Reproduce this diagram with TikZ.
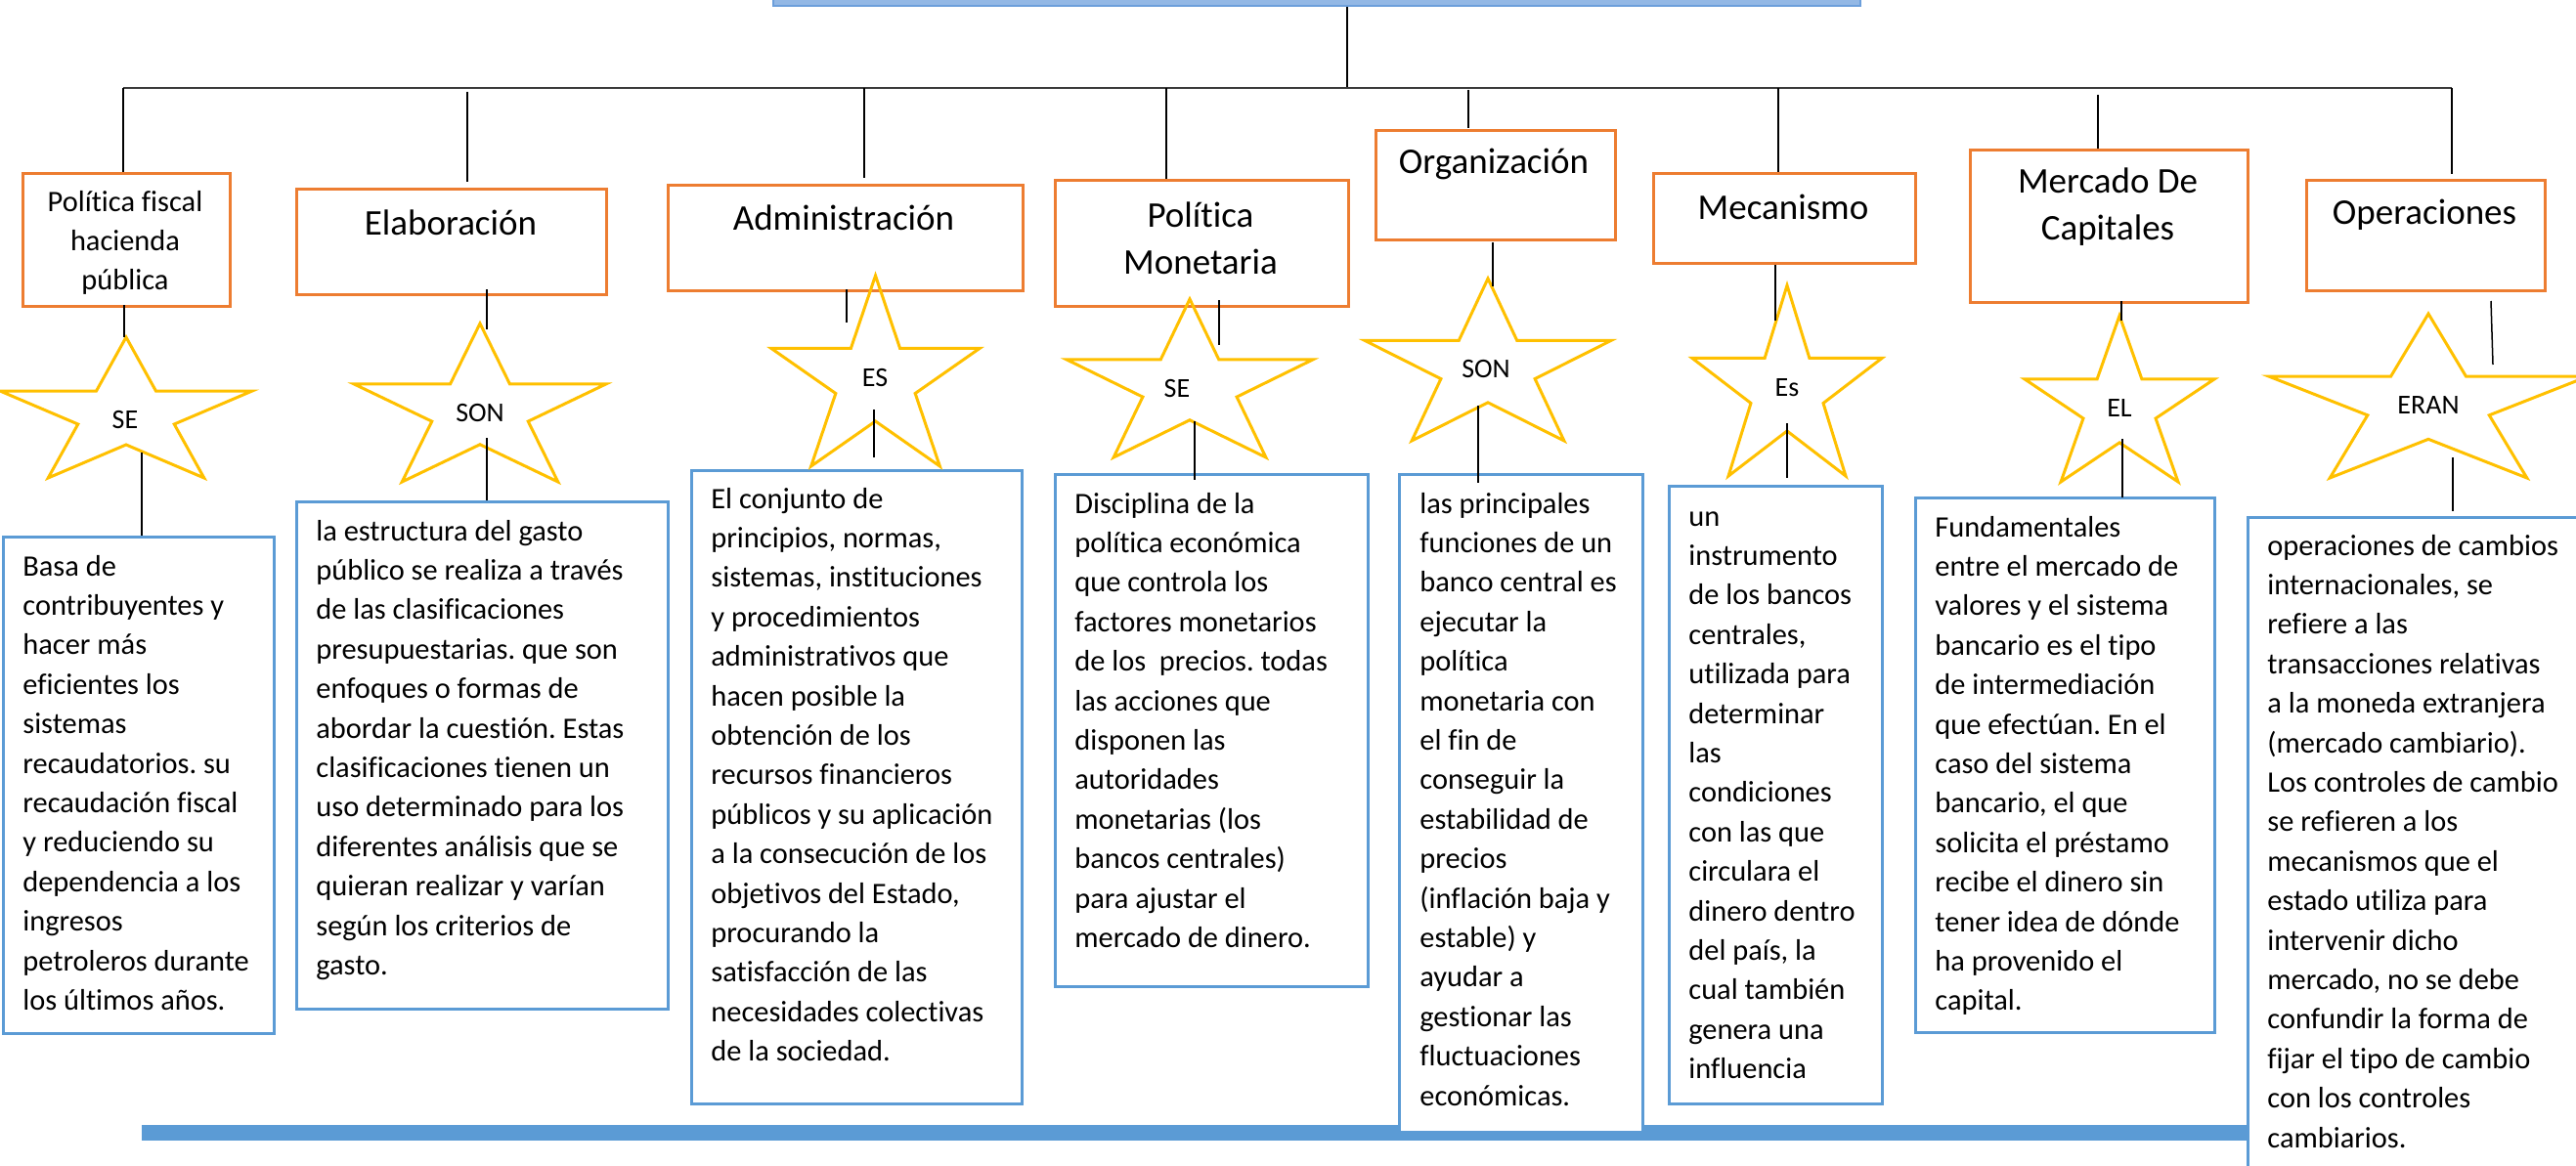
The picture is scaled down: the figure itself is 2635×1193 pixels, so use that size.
\documentclass[tikz,border=0pt]{standalone}
\usepackage{fontspec}
\setmainfont{Carlito}[Ligatures={NoCommon,NoContextual}, RawFeature={-liga;-clig;-dlig}]
\frenchspacing
\definecolor{orng}{HTML}{ED7D31}
\definecolor{bblue}{HTML}{5B9BD5}
\definecolor{ystar}{HTML}{FFC000}
\definecolor{topfill}{HTML}{93B8E5}
\definecolor{topline}{HTML}{6C9FDB}
\definecolor{hgrey}{HTML}{3A3A3A}
\newcommand\drawstar[4]{%
  \pgfmathsetmacro\stcx{(#1+#2)/2}%
  \pgfmathsetmacro\stsx{(#2-#1)/1.902}%
  \pgfmathsetmacro\stsy{(#4-#3)/1.809}%
  \pgfmathsetmacro\stcy{#3+\stsy}%
  \begin{scope}[shift={(\stcx,\stcy)}, xscale=\stsx, yscale=-\stsy]
    \draw[starline] (0,1) -- (0.2245,0.309) -- (0.951,0.309) -- (0.363,-0.118) -- (0.588,-0.809) -- (0,-0.382) -- (-0.588,-0.809) -- (-0.363,-0.118) -- (-0.951,0.309) -- (-0.2245,0.309) -- cycle;
  \end{scope}}
\newcommand\cnx[6]{%
  \coordinate (#2-a) at (#3,#4);
  \coordinate (#2-b) at (#5,#6);
  \draw[#1] (#2-a) -- (#2-b);}
\newcommand\rbox[7]{%
  \node[#1, anchor=north west, minimum width=#5pt, minimum height=#6pt] (#2) at (#3,#4) {};}
\tikzset{
  obx/.style={draw=orng, line width=1.5pt, fill=white, inner sep=0},
  bbx/.style={draw=bblue, line width=1.4pt, fill=white, inner sep=0},
  starline/.style={draw=ystar, line width=1.5pt, line join=miter},
  thin/.style={line width=0.75pt, black},
  branch/.style={line width=1.3pt, black},
  hbar/.style={line width=1.1pt, hgrey},
  ttl/.style={inner sep=0, align=center, font=\fontsize{18.5}{24}\selectfont},
  ttlsmall/.style={inner sep=0, align=center, font=\fontsize{15.2}{20}\selectfont},
  starlbl/.style={inner sep=0, font=\fontsize{14}{17}\selectfont},
  desc/.style={anchor=base west, inner sep=0, font=\fontsize{15.2}{20.2}\selectfont},
}
\begin{document}
\begin{tikzpicture}[x=0.5pt,y=-0.5pt]
\useasboundingbox (0,0) rectangle (2635,1193);
\clip (0,0) rectangle (2635,1193);

% top box
\node[fill=topfill, draw=topline, line width=0.8pt, inner sep=0, anchor=south west, minimum width=556pt, minimum height=20pt] (top) at (790,7) {};

% tree lines
\cnx{branch}{vtop}{1378}{7}{1378}{90}
\cnx{hbar}{hline}{126}{90}{2508}{90}
\cnx{branch}{v1}{126}{90}{126}{176}
\cnx{branch}{v2}{478}{94}{478}{186}
\cnx{branch}{v3}{884}{90}{884}{182}
\cnx{branch}{v4}{1193}{90}{1193}{183}
\cnx{branch}{v5}{1502}{92}{1502}{131}
\cnx{branch}{v6}{1819}{90}{1819}{176}
\cnx{branch}{v7}{2146}{97}{2146}{152}
\cnx{branch}{v8}{2508}{90}{2508}{178}

% orange title boxes
\rbox{obx}{t1}{22}{176}{106}{68}{}
\rbox{obx}{t2}{302}{192}{158.5}{54}{}
\rbox{obx}{t3}{682}{188}{181.5}{54}{}
\rbox{obx}{t4}{1078}{183}{150}{64.5}{}
\rbox{obx}{t5}{1406}{132}{122.5}{56}{}
\rbox{obx}{t6}{1690}{176}{134}{46}{}
\rbox{obx}{t7}{2014}{152}{142}{78}{}
\rbox{obx}{t8}{2358}{183}{122}{56.5}{}

\node[ttlsmall] (n1) at (128,248) {Política fiscal\\hacienda\\pública};
\node[ttl] (n2) at (461,228) {Elaboración};
\node[ttl] (n3) at (863,223) {Administración};
\node[ttl] (n4) at (1228,244) {Política\\Monetaria};
\node[ttl] (n5) at (1528,168) {Organización};
\node[ttl] (n6) at (1824,212) {Mecanismo};
\node[ttl] (n7) at (2156,212) {Mercado De\\Capitales};
\node[ttl] (n8) at (2480,220) {Operaciones};

% bottom bar
\node[fill=bblue, inner sep=0, anchor=north west, minimum width=1077pt, minimum height=8pt] (bar) at (145,1151) {};

% description boxes
\rbox{bbx}{bA}{2}{548}{138.5}{254}{}
\rbox{bbx}{bB}{302}{512}{190}{259.5}{}
\rbox{bbx}{bC}{706}{480}{169}{324}{}
\rbox{bbx}{bD}{1078}{484}{160}{262}{}
\rbox{bbx}{bE}{1430}{484}{124.5}{336.5}{}
\rbox{bbx}{bF}{1706}{496}{109}{316}{}
\rbox{bbx}{bG}{1958}{508}{153}{273.5}{}
\rbox{bbx}{bH}{2298}{528}{191}{360}{}

\node[desc] (dA) at (23,589) {\parbox[t]{200pt}{\raggedright Basa de\\contribuyentes y\\hacer más\\eficientes los\\sistemas\\recaudatorios. su\\recaudación fiscal\\y reduciendo su\\dependencia a los\\ingresos\\petroleros durante\\los últimos años.}};
\node[desc] (dB) at (323,553) {\parbox[t]{220pt}{\raggedright la estructura del gasto\\público se realiza a través\\de las clasificaciones\\presupuestarias. que son\\enfoques o formas de\\abordar la cuestión. Estas\\clasificaciones tienen un\\uso determinado para los\\diferentes análisis que se\\quieran realizar y varían\\según los criterios de\\gasto.}};
\node[desc] (dC) at (727,520) {\parbox[t]{220pt}{\raggedright El conjunto de\\principios, normas,\\sistemas, instituciones\\y procedimientos\\administrativos que\\hacen posible la\\obtención de los\\recursos financieros\\públicos y su aplicación\\a la consecución de los\\objetivos del Estado,\\procurando la\\satisfacción de las\\necesidades colectivas\\de la sociedad.}};
\node[desc] (dD) at (1099,525) {\parbox[t]{220pt}{\raggedright Disciplina de la\\política económica\\que controla los\\factores monetarios\\de los\ \ precios. todas\\las acciones que\\disponen las\\autoridades\\monetarias (los\\bancos centrales)\\para ajustar el\\mercado de dinero.}};
\node[desc] (dE) at (1452,525) {\parbox[t]{200pt}{\raggedright las principales\\funciones de un\\banco central es\\ejecutar la\\política\\monetaria con\\el fin de\\conseguir la\\estabilidad de\\precios\\(inflación baja y\\estable) y\\ayudar a\\gestionar las\\fluctuaciones\\económicas.}};
\node[desc] (dF) at (1727,538) {\parbox[t]{200pt}{\raggedright un\\instrumento\\de los bancos\\centrales,\\utilizada para\\determinar\\las\\condiciones\\con las que\\circulara el\\dinero dentro\\del país, la\\cual también\\genera una\\influencia}};
\node[desc] (dG) at (1979,549) {\parbox[t]{220pt}{\raggedright Fundamentales\\entre el mercado de\\valores y el sistema\\bancario es el tipo\\de intermediación\\que efectúan. En el\\caso del sistema\\bancario, el que\\solicita el préstamo\\recibe el dinero sin\\tener idea de dónde\\ha provenido el\\capital.}};
\node[desc] (dH) at (2319,568) {\parbox[t]{220pt}{\raggedright operaciones de cambios\\internacionales, se\\refiere a las\\transacciones relativas\\a la moneda extranjera\\(mercado cambiario).\\Los controles de cambio\\se refieren a los\\mecanismos que el\\estado utiliza para\\intervenir dicho\\mercado, no se debe\\confundir la forma de\\fijar el tipo de cambio\\con los controles\\cambiarios.}};

% stars
\drawstar{0}{258}{345}{489}
\drawstar{362}{620}{331}{493}
\drawstar{789}{1002}{282}{477}
\drawstar{1091}{1343}{306}{468}
\drawstar{1396}{1648}{285}{451}
\drawstar{1731}{1925}{292}{487}
\drawstar{2071}{2265}{323}{493}
\drawstar{2321}{2647}{321}{489}

\node[starlbl] (s1) at (128,430) {SE};
\node[starlbl] (s2) at (491,423) {SON};
\node[starlbl] (s3) at (895,387) {ES};
\node[starlbl] (s4) at (1204,398) {SE};
\node[starlbl] (s5) at (1520,378) {SON};
\node[starlbl] (s6) at (1828,397) {Es};
\node[starlbl] (s7) at (2168,418) {EL};
\node[starlbl] (s8) at (2484,415) {ERAN};

% thin connectors
\cnx{thin}{c1}{127}{312}{127}{345}
\cnx{thin}{d1}{145}{463}{145}{548}
\cnx{thin}{c2}{498}{296}{498}{337}
\cnx{thin}{d2}{498}{448}{498}{512}
\cnx{thin}{c3}{866}{296}{866}{330}
\cnx{thin}{d3}{894}{419}{894}{468}
\cnx{thin}{c4}{1247}{307}{1247}{353}
\cnx{thin}{d4}{1222}{431}{1222}{491}
\cnx{thin}{c5}{1527}{248}{1527}{293}
\cnx{thin}{d5}{1512}{415}{1512}{494}
\cnx{thin}{c6}{1816}{271}{1816}{328}
\cnx{thin}{d6}{1828}{433}{1828}{489}
\cnx{thin}{c7}{2170}{308}{2170}{328}
\cnx{thin}{d7}{2171}{449}{2171}{509}
\cnx{thin}{c8}{2548}{308}{2550}{373}
\cnx{thin}{d8}{2509}{468}{2509}{523}
\end{tikzpicture}
\end{document}
